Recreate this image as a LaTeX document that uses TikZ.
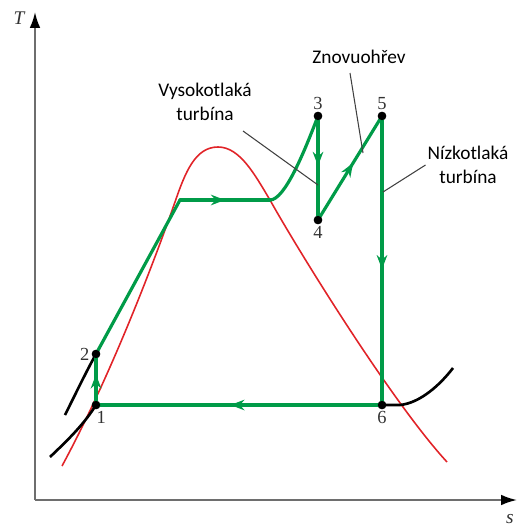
\documentclass[tikz,border=0pt]{standalone}
\usepackage{fontspec}
\setmainfont{Liberation Serif}
\newfontfamily\notefont{Carlito}
\usepackage{tikz}
\usetikzlibrary{arrows.meta, decorations.markings, positioning}
\definecolor{cyclegreen}{RGB}{0,155,72}
\definecolor{domered}{RGB}{225,35,40}
\definecolor{axisgray}{RGB}{110,110,110}

\begin{document}
\begin{tikzpicture}[
    x=0.02cm, y=-0.02cm,
    axis/.style={draw=axisgray, line width=1.1pt, -{Latex[length=9pt, width=6pt, black]}},
    dome/.style={draw=domered, line width=0.9pt},
    isobar/.style={draw=black, line width=1.5pt},
    rankine/.style={draw=cyclegreen, line width=1.8pt, line cap=round, line join=round},
    midarrow/.style={postaction={decorate}, decoration={markings, mark=at position #1 with {\arrow[cyclegreen]{Stealth[length=8pt, width=6pt]}}}},
    pt/.style={circle, fill=black, inner sep=0pt, minimum size=4.8pt, label distance=2.5pt},
    num/.style={font=\fontsize{10.5}{12}\selectfont, text=black!80, inner sep=1pt},
    note/.style={font=\notefont\fontsize{11}{14}\selectfont, align=center, inner sep=1pt},
    leader/.style={draw=black!75, line width=0.6pt},
]
\useasboundingbox (0,0) rectangle (520,527);

% axes
\coordinate (origin) at (35,500);
\coordinate (ttip) at (35,12);
\coordinate (stip) at (517,500);
\draw [axis] (origin) -- (ttip);
\draw [axis] (origin) -- (stip);
\node [num, font=\fontsize{11}{12}\selectfont\itshape] (tlabel) at (19,18) {T};
\node [num, font=\fontsize{11}{12}\selectfont\itshape] (slabel) at (510,519) {s};

% saturation dome
\draw [dome] (62,466) .. controls (115,368) and (160,245) .. (175,202)
    .. controls (185,173) and (195,147) .. (218,147)
    .. controls (240,147) and (255,175) .. (270,200)
    .. controls (295,245) and (390,400) .. (447,462);

% state points
\node [pt, label={[num, xshift=3pt]below:1}] (p1) at (96,405) {};
\node [pt, label={[num]left:2}] (p2) at (96,354) {};
\node [pt, label={[num]above:3}] (p3) at (318,116) {};
\node [pt, label={[num]below:4}] (p4) at (318,220) {};
\node [pt, label={[num]above:5}] (p5) at (382,116) {};
\node [pt, label={[num]below:6}] (p6) at (382,405) {};
\coordinate (sat) at (180,200);
\coordinate (vap) at (270,200);

% isobars
\draw [isobar] (50,457) .. controls (70,438) and (84,424) .. (p1.center);
\draw [isobar] (65,415) .. controls (75,395) and (86,372) .. (p2.center);
\draw [isobar] (p6.center) -- (400,405) .. controls (420,403) and (440,385) .. (453,368);

% cycle
\draw [rankine, midarrow=0.6] (p1.center) -- (p2.center);
\draw [rankine] (p2.center) -- (sat);
\draw [rankine, midarrow=0.5] (sat) -- (vap);
\draw [rankine] (vap) .. controls (285,200) and (305,150) .. (p3.center);
\draw [rankine, midarrow=0.48] (p3.center) -- (p4.center);
\draw [rankine, midarrow=0.55] (p4.center) -- (p5.center);
\draw [rankine, midarrow=0.53] (p5.center) -- (p6.center);
\draw [rankine, midarrow=0.53] (p6.center) -- (p1.center);
\node [pt] at (p1) {};
\node [pt] at (p2) {};
\node [pt] at (p3) {};
\node [pt] at (p4) {};
\node [pt] at (p5) {};
\node [pt] at (p6) {};

% notes
\node [note] (hpturb) at (205,102) {Vysokotlaká\\turbína};
\node [note] (reheat) at (359,57) {Znovuohřev};
\node [note] (lpturb) at (468,165) {Nízkotlaká\\turbína};
\coordinate (hpfoot) at (243,131);
\coordinate (hptip) at (318,185);
\coordinate (rhfoot) at (350,73);
\coordinate (rhtip) at (363,153);
\coordinate (lptip) at (383,192);
\draw [leader] (hpfoot) -- (hptip);
\draw [leader] (rhfoot) -- (rhtip);
\draw [leader] (lpturb.west) -- (lptip);
\end{tikzpicture}
\end{document}
